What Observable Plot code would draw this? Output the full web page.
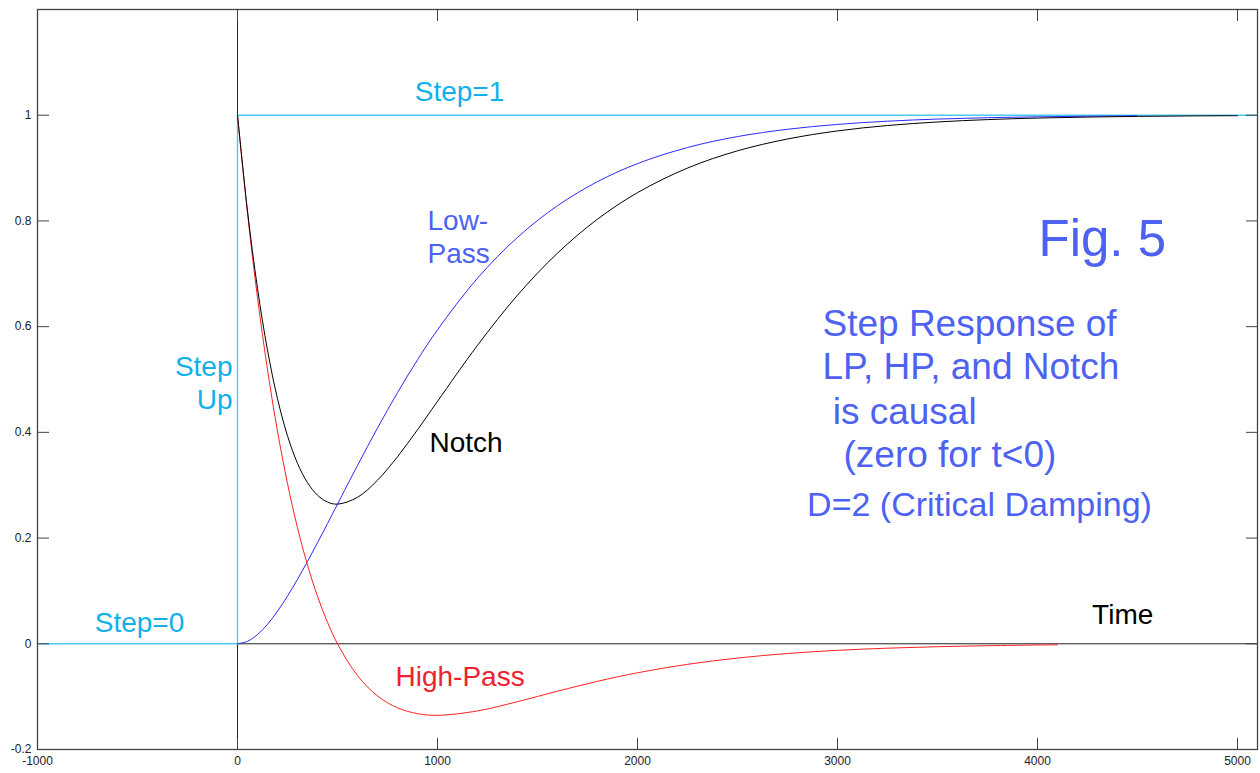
<!DOCTYPE html>
<html>
<head>
<meta charset="utf-8">
<script src="https://cdn.jsdelivr.net/npm/d3@7"></script>
<script src="https://cdn.jsdelivr.net/npm/@observablehq/plot@0.6"></script>
<style>
  html, body { margin: 0; padding: 0; background: #fff; }
</style>
</head>
<body>
<div id="chart"></div>
<script>
// ---- tick labels ----
const xTicks = [-1000, 0, 1000, 2000, 3000, 4000, 5000];
const yTicks = [-0.2, 0, 0.2, 0.4, 0.6, 0.8, 1];

// ---- input step (cyan) ----
const stepT = [-1000, 0, 0, 5100];
const stepV = [0, 0, 1, 1];

// ---- Low-Pass step response (blue) ----
const lpT = [0, 50, 100, 150, 200, 250, 300, 350, 400, 450, 500, 600, 700, 800, 900, 1000,
             1200, 1400, 1600, 1800, 2000, 2250, 2500, 2750, 3000, 3250, 3500, 3750, 4000, 4250, 4500];
const lpV = [0, 0.0047, 0.0175, 0.0369, 0.0616, 0.0902, 0.1219, 0.1558, 0.1912, 0.2275, 0.2642,
             0.3374, 0.4082, 0.4751, 0.5372, 0.5940, 0.6916, 0.7689, 0.8288, 0.8743, 0.9084,
             0.9389, 0.9596, 0.9734, 0.9826, 0.9887, 0.9927, 0.9953, 0.9970, 0.9981, 0.9988];

// ---- High-Pass step response (red) ----
const hpT = [0, 50, 100, 150, 200, 250, 300, 350, 400, 450, 500, 600, 700, 800, 900, 1000,
             1200, 1400, 1600, 1800, 2000, 2250, 2500, 2750, 3000, 3250, 3500, 3750, 4000, 4100];
const hpV = [1, 0.8144, 0.6550, 0.5186, 0.4022, 0.3033, 0.2195, 0.1490, 0.0899, 0.0407, 0,
             -0.0602, -0.0986, -0.1211, -0.1322, -0.1353, -0.1270, -0.1095, -0.0897, -0.0710,
             -0.0549, -0.0389, -0.0270, -0.0184, -0.0124, -0.0083, -0.0055, -0.0036, -0.0023, -0.0020];

// ---- Notch step response (black) ----
const nT = [0, 50, 100, 150, 200, 250, 300, 350, 400, 450, 500, 600, 700, 800, 900, 1000,
            1200, 1400, 1600, 1800, 2000, 2250, 2500, 2750, 3000, 3250, 3500, 3750, 4000, 4250, 4500, 4750, 5000];
const nV = [1, 0.8190, 0.6725, 0.5555, 0.4637, 0.3935, 0.3414, 0.3048, 0.2811, 0.2682, 0.2642,
            0.2771, 0.3095, 0.3539, 0.4049, 0.4587, 0.5646, 0.6595, 0.7391, 0.8033, 0.8535,
            0.9000, 0.9326, 0.9550, 0.9703, 0.9805, 0.9872, 0.9917, 0.9946, 0.9965, 0.9978, 0.9986, 0.9991];

const xMax = 5100;
const fmt = d => String(d);

const CYAN_TXT = "#10b0ec", CYAN_LN = "#4cc8f4";
const BLUE_TXT = "#4d62f2", BLUE_LN = "#2a2aff";
const RED_TXT = "#ee2230", RED_LN = "#ff1f1f";

function note(text, x, y, opts = {}) {
  return Plot.text([text], {
    x: () => x, y: () => y, text: d => d,
    textAnchor: "start", lineAnchor: "middle",
    fontSize: 28, fill: "#000", ...opts
  });
}

const chart = Plot.plot({
  width: 1260,
  height: 773,
  marginLeft: 37,
  marginRight: 3,
  marginTop: 9,
  marginBottom: 24,
  x: { domain: [-1000, xMax] },
  y: { domain: [-0.2, 1.2] },
  style: { fontFamily: "'Liberation Sans', Arial, sans-serif", fontSize: "12px", background: "#fff", color: "#222" },
  marks: [
    // coordinate axes through the origin
    Plot.ruleX([0], { stroke: "#222", strokeWidth: 1 }),
    Plot.ruleY([0], { x1: 0, x2: xMax, stroke: "#222", strokeWidth: 1 }),
    // step input
    Plot.line(stepT, { x: d => d, y: (d, i) => stepV[i], stroke: CYAN_LN, strokeWidth: 1.4 }),
    // responses
    Plot.line(lpT, { x: d => d, y: (d, i) => lpV[i], stroke: BLUE_LN, strokeWidth: 1, curve: "catmull-rom" }),
    Plot.line(hpT, { x: d => d, y: (d, i) => hpV[i], stroke: RED_LN, strokeWidth: 1, curve: "catmull-rom" }),
    Plot.line(nT, { x: d => d, y: (d, i) => nV[i], stroke: "#000", strokeWidth: 1, curve: "catmull-rom" }),
    // frame and inward ticks
    Plot.frame({ stroke: "#444", strokeWidth: 1.3 }),
    Plot.axisY(yTicks, { anchor: "left", tickSize: -12, tickPadding: 18, tickFormat: fmt, label: null, stroke: "#444" }),
    Plot.axisY(yTicks, { anchor: "right", tickSize: -12, tickFormat: () => "", label: null, stroke: "#444" }),
    Plot.axisX(xTicks, { anchor: "bottom", tickSize: -11, tickPadding: 18, tickFormat: fmt, label: null, stroke: "#444" }),
    Plot.axisX(xTicks, { anchor: "top", tickSize: -11, tickFormat: () => "", label: null, stroke: "#444" }),
    // annotations
    note("Step=1", 1110, 1.044, { textAnchor: "middle", fill: CYAN_TXT }),
    note("Step=0", -490, 0.039, { textAnchor: "middle", fill: CYAN_TXT }),
    note("Step\nUp", -25, 0.496, { textAnchor: "end", fill: CYAN_TXT, lineHeight: 1.2 }),
    note("Low-\nPass", 950, 0.771, { fill: BLUE_TXT, lineHeight: 1.16 }),
    note("Notch", 960, 0.380, { fill: "#000" }),
    note("High-Pass", 790, -0.063, { fill: RED_TXT }),
    note("Time", 4273, 0.0535, { fill: "#000" }),
    note("Fig. 5", 4005, 0.765, { fill: BLUE_TXT, fontSize: 51 }),
    note("Step Response of", 2925, 0.605, { fill: BLUE_TXT, fontSize: 37 }),
    note("LP, HP, and Notch", 2925, 0.524, { fill: BLUE_TXT, fontSize: 37 }),
    note("is causal", 2976, 0.439, { fill: BLUE_TXT, fontSize: 37 }),
    note("(zero for t<0)", 3030, 0.356, { fill: BLUE_TXT, fontSize: 37 }),
    note("D=2 (Critical Damping)", 2848, 0.262, { fill: BLUE_TXT, fontSize: 34 })
  ]
});

document.getElementById("chart").appendChild(chart);
</script>
</body>
</html>
